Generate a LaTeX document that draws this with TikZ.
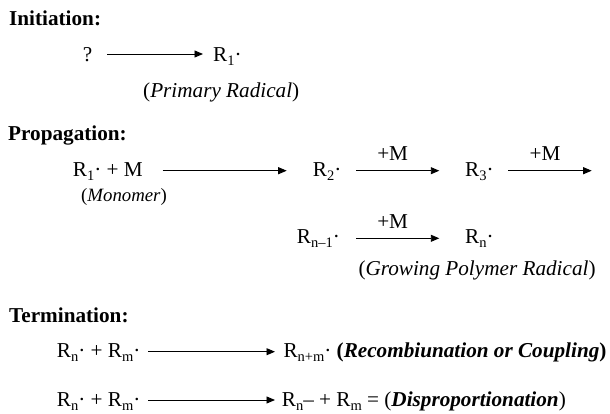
\documentclass[tikz,border=0pt]{standalone}
\usepackage{fontspec}
\setmainfont{Liberation Serif}
\usetikzlibrary{arrows.meta}
\newcommand\mysub[1]{\raisebox{-4pt}{\fontsize{14.5}{15}\selectfont #1}}
\begin{document}
\begin{tikzpicture}[x=1pt,y=-1pt,
  txt/.style={anchor=base west,inner sep=0pt,font=\fontsize{21.2}{24}\selectfont},
  hd/.style={txt,font=\fontsize{21.2}{24}\selectfont\bfseries},
  arr/.style={-{Triangle[length=8.5pt,width=7pt]},line width=0.9pt},
  lbl/.style={above=9.5pt,xshift=-5pt,inner sep=0pt,font=\fontsize{21.2}{24}\selectfont}]
\useasboundingbox (0,0) rectangle (610,413);
% Initiation
\node[hd] (hinit) at (9,25) {Initiation:};
\node[txt] (q) at (82.7,61) {?};
\node[txt] (r1) at (213,61) {R\mysub{1}·};
\node[txt] (prim) at (143,97) {(\textit{Primary Radical})};
\draw[arr] ([xshift=24.3pt,yshift=7pt]q.base west) -- ([xshift=-10pt,yshift=7pt]r1.base west);
% Propagation
\node[hd] (hprop) at (8,140) {Propagation:};
\node[txt] (r1m) at (72.7,176.7) {R\mysub{1}· + M};
\node[txt,font=\fontsize{18.8}{22}\selectfont] (mono) at (81,201.7) {(\textit{Monomer})};
\node[txt] (r2) at (312.7,176.7) {R\mysub{2}·};
\node[txt] (r3) at (465,176.7) {R\mysub{3}·};
\coordinate (r3end) at (591.7,170.7);
\draw[arr] ([xshift=90pt,yshift=6pt]r1m.base west) -- ([xshift=-26pt,yshift=6pt]r2.base west);
\draw[arr] ([xshift=43.3pt,yshift=6pt]r2.base west) -- node[lbl] (m1) {+M} ([xshift=-25.7pt,yshift=6pt]r3.base west);
\draw[arr] ([xshift=43.3pt,yshift=6pt]r3.base west) -- node[lbl] (m2) {+M} (r3end);
\node[txt] (rn1) at (296.7,243.3) {R\mysub{n–1}·};
\node[txt] (rn) at (465,243.3) {R\mysub{n}·};
\node[txt] (grow) at (358.3,275) {(\textit{Growing Polymer Radical})};
\draw[arr] ([xshift=59.3pt,yshift=5pt]rn1.base west) -- node[lbl] (m3) {+M} ([xshift=-25.7pt,yshift=5pt]rn.base west);
% Termination
\node[hd] (hterm) at (9,322.7) {Termination:};
\node[txt] (t1l) at (56.7,357.3) {R\mysub{n}· + R\mysub{m}·};
\node[txt] (t1r) at (283.3,357.3) {R\mysub{n+m}· \textbf{(\textit{Recombiunation or Coupling})}};
\node[txt] (t2l) at (56.7,406) {R\mysub{n}· + R\mysub{m}·};
\node[txt] (t2r) at (281.7,406) {R\mysub{n}– + R\mysub{m} = (\textbf{\textit{Disproportionation}})};
\draw[arr] ([xshift=91.6pt,yshift=5.6pt]t1l.base west) -- ([xshift=-8.3pt,yshift=5.6pt]t1r.base west);
\draw[arr] ([xshift=91.6pt,yshift=6pt]t2l.base west) -- ([xshift=-6.7pt,yshift=6pt]t2r.base west);
\end{tikzpicture}
\end{document}
